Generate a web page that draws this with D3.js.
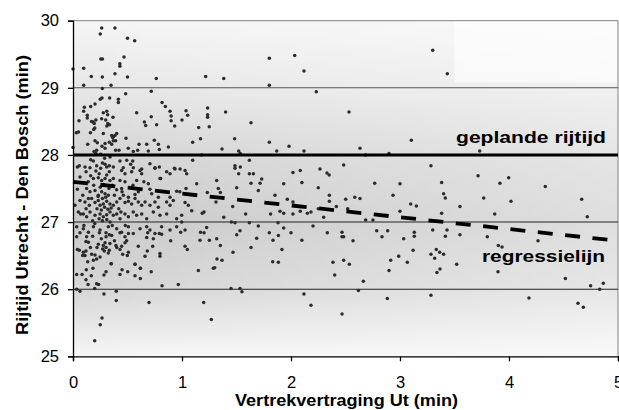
<!DOCTYPE html>
<html><head><meta charset="utf-8">
<script src="https://cdn.jsdelivr.net/npm/d3@7"></script>
<style>body{margin:0;background:#fff}svg{display:block}text{font-family:"Liberation Sans",Arial,sans-serif}</style>
</head><body><svg id="c" width="619" height="410"></svg>
<script>
// ---- data ----
const xTicks = [0, 1, 2, 3, 4, 5];
const yTicks = [25, 26, 27, 28, 29, 30];
const gridValues = [26, 27, 29];
const plannedTime = 28;
const regressionX = [0, 5];
const regressionY = [27.6, 26.72];
const plannedLabel = "geplande rijtijd";
const regressionLabel = "regressielijn";
const xTitle = "Vertrekvertraging Ut (min)";
const yTitle = "Rijtijd Utrecht - Den Bosch (min)";
// [departure delay Utrecht (min), ride time (min)]
const observations = [
[0,29.28],[0.098,29.29],[0.263,29.89],[0.25,29.80],[0.385,29.89],[0.50,29.74],[0.566,29.70],[0.255,29.43],[0.27,29.43],[0.468,29.46],[0.43,29.36],[0.43,29.32],[0.385,29.21],[0.168,29.17],[0.269,29.16],[0.50,29.16],[0.764,29.14],[0.098,29.04],[0.349,29.04],[0.269,28.99],[0.718,28.95],[0.483,28.91],[0.266,28.85],[0.25,28.83],[0.336,28.85],[0.416,28.83],[0.416,28.78],[0.202,28.76],[0.162,28.72],[0.104,28.71],[0.098,28.65],[0.278,28.63],[0.31,28.65],[0.318,28.60],[0.367,28.56],[0.584,28.63],[0.131,28.59],[0.131,28.55],[0.055,28.51],[0.17,28.5],[0.185,28.49],[0.195,28.47],[0.21,28.52],[0.263,28.54],[0.30,28.52],[0.32,28.47],[0.31,28.43],[0.335,28.45],[0.2,28.40],[0.19,28.38],[0.16,28.33],[0.03,28.33],[0.05,28.34],[0.655,28.49],[0.667,28.44],[0.718,28.57],[0.767,28.45],[0.817,28.78],[0.847,28.72],[0.89,28.65],[0.90,28.58],[0.90,28.51],[0.933,28.43],[1.0,28.52],[1.037,28.66],[1.052,28.59],[1.153,28.41],[1.217,29.17],[1.235,28.70],[1.235,28.60],[1.235,28.56],[1.25,28.42],
[1.383,29.14],[1.801,29.44],[2.034,29.48],[2.119,29.25],[1.801,29.04],[2.232,28.94],[2.532,28.64],[1.40,28.64],[1.633,28.48],[1.483,28.24],[1.17,28.24],
[3.3,29.56],[3.434,29.21],
[3.104,28.22],[3.731,28.06],[3.284,27.84],[3.382,27.59],[3.40,27.42],[3.416,27.36],[3.716,27.69],[3.917,27.58],[3.997,27.66],[4.333,27.53],[3.768,27.36],[4.018,27.31],[4.667,27.34],[4.718,27.08],[3.55,27.23],[3.382,27.13],[3.869,27.12],[3.098,27.27],[3.15,27.24],[3.131,26.85],[3.131,26.79],[3.3,26.88],[3.431,26.88],[3.416,26.79],[3.55,26.81],[3.801,26.78],[4.266,26.72],[3.12,26.58],[3.333,26.59],[3.364,26.55],[3.40,26.52],[3.284,26.52],[3.318,26.46],[3.902,26.65],[3.936,26.63],[3.52,26.37],[3.367,26.30],
[3.339,26.25],[3.899,26.26],[3.284,25.91],[4.183,25.87],[4.517,26.16],[4.633,25.79],[4.682,25.73],[4.749,26.05],[4.832,26.0],[4.865,26.09],
[1.367,28.09],[1.801,28.19],[1.982,28.13],[1.869,28.06],[2.119,28.06],[1.52,28.06],[1.535,28.02],[1.18,28.0],[2.633,28.10],[2.685,28.0],[2.899,28.02],[1.618,27.92],[1.486,27.84],[1.486,27.80],[1.535,27.82],[1.52,27.72],[1.618,27.72],[1.655,27.72],[2.018,27.74],[2.085,27.77],[2.266,27.79],[2.33,27.73],[2.35,27.70],[2.483,27.85],[1.731,27.64],[1.716,27.58],[1.633,27.58],[1.318,27.62],[1.502,27.51],[1.333,27.50],[1.352,27.44],[1.232,27.44],[1.70,27.47],[1.933,27.57],[2.10,27.59],[2.25,27.51],[2.768,27.58],[3.0,27.57],[1.853,27.40],[2.352,27.40],[2.352,27.31],[2.502,27.34],[2.585,27.37],[2.633,27.35],[2.936,27.40],[1.966,27.34],[2.018,27.30],[1.312,27.30],[1.465,27.23],[2.416,27.23],[2.25,27.20],[2.52,27.20],[1.186,27.13],[1.202,27.15],[1.899,27.16],[1.933,27.13],[1.813,27.12],[1.584,27.12],[2.018,27.12],[2.085,27.16],[2.15,27.13],[2.183,27.15],[3.0,27.16],[2.30,27.07],[1.383,27.07],[1.453,27.0],[1.486,26.99],[1.618,26.99],[2.685,27.03],[2.752,27.03],[1.881,26.99],[1.70,26.94],[2.202,26.94],[1.933,26.91],[1.532,26.87],[1.502,26.81],[1.801,26.84],[2.0,26.84],[2.333,26.84],[2.468,26.85],[2.468,26.78],[2.483,26.78],[2.786,26.87],[2.887,26.87],[2.835,26.78],[3.034,26.75],[1.17,26.85],[1.202,26.84],[1.251,26.73],[1.318,26.75],[1.685,26.76],[1.835,26.73],[1.884,26.80],[2.10,26.73],[2.569,26.72],[1.352,26.65],[1.633,26.62],[1.917,26.59],[1.468,26.55],[2.988,26.49],[2.915,26.43],[1.321,26.45],[1.367,26.43],[1.832,26.41],[1.884,26.40],[2.385,26.40],[2.483,26.43],[2.535,26.37],[1.287,26.31],[1.30,26.32],
[3.067,26.40],[2.899,26.28],[2.401,26.21],[2.664,26.12],[1.45,26.01],[1.532,26.01],[1.55,25.96],[2.618,25.98],[2.119,25.93],[1.199,25.80],[2.183,25.76],[2.884,25.86],[2.468,25.63],[1.269,25.55],
[0.034,26.22],[0.083,26.22],[0.122,26.29],[0.183,26.31],[0.135,26.41],[0.187,26.43],[0.119,26.14],[0.138,26.07],[0.168,26.20],[0.034,26.0],[0.064,25.97],[0.199,26.01],[0.217,26.08],[0.235,26.07],[0.284,25.93],[0.284,26.21],[0.303,26.26],[0.352,26.38],[0.431,26.22],[0.45,26.29],[0.502,26.26],[0.569,26.37],[0.618,26.31],[0.569,26.20],[0.618,26.16],[0.718,26.26],[0.397,25.97],[0.397,25.83],[0.697,25.80],[0.817,26.05],[0.966,26.07],[1.15,26.28],[0.266,25.57],[0.25,25.47],[0.199,25.23],
[0.034,26.78],[0.064,26.84],[0.125,26.78],[0.119,26.71],[0.141,26.70],[0.18,26.79],[0.242,26.84],[0.303,26.84],[0.303,26.78],[0.333,26.81],[0.355,26.80],[0.431,26.84],[0.446,26.85],[0.477,26.78],[0.508,26.83],[0.685,26.84],[0.676,26.77],[0.737,26.75],[0.792,26.83],[0.813,26.82],[0.896,26.72],[0.988,26.85],[1.028,26.64],[1.049,26.59],[0.04,26.59],[0.058,26.58],[0.095,26.55],[0.089,26.50],[0.11,26.50],[0.119,26.57],[0.171,26.52],[0.202,26.51],[0.217,26.45],[0.248,26.48],[0.232,26.67],[0.272,26.60],[0.278,26.65],[0.287,26.57],[0.303,26.62],[0.333,26.58],[0.339,26.68],[0.294,26.69],[0.324,26.54],[0.394,26.65],[0.401,26.62],[0.431,26.59],[0.446,26.64],[0.456,26.52],[0.477,26.69],[0.492,26.72],[0.508,26.55],[0.498,26.50],[0.599,26.64],[0.661,26.49],[0.682,26.57],[0.731,26.64],[0.798,26.53],[0.798,26.49],[0.349,26.38],[0.569,26.37],[0.618,26.31],
[0,28.11],[0.135,28.16],[0.202,28.21],[0.223,28.18],[0.266,28.13],[0.294,28.17],[0.294,28.10],[0.333,28.19],[0.355,28.16],[0.37,28.27],[0.385,28.29],[0.391,28.21],[0.37,28.21],[0.422,28.07],[0.391,28.07],[0.486,28.25],[0.507,28.10],[0.606,28.16],[0.593,28.07],[0.676,28.16],[0.691,28.06],[0.746,28.22],[0.783,28.16],[0.792,28.08],[0.217,28.07],[0.21,28.02],[0.193,28.05],[0.254,28.01],[0.553,28.05],
[0.11,27.82],[0.058,27.84],[0.162,27.93],[0.186,27.91],[0.217,27.84],[0.254,27.80],[0.294,27.86],[0.309,27.82],[0.333,27.84],[0.37,27.82],[0.431,27.91],[0.461,27.81],[0.493,27.92],[0.529,27.86],[0.548,27.91],[0.63,27.79],[0.706,27.87],[0.752,27.80],[0.792,27.82],[0.93,27.80],[0.982,27.79],
[0.278,28.32],[0.355,28.29],[0.364,28.26],[0.401,28.32],[0.875,28.12],
[0.04,27.82],[0.156,27.81],[0.333,27.75],[0.446,27.77],[0.477,27.72],[0.538,27.75],[0.553,27.81],[0.615,27.77],[0.63,27.72],[0.752,27.81],[0.804,27.65],[0.859,27.75],[0.89,27.72],[0.936,27.79],[1.028,27.77],[1.043,27.72],
[0.064,27.67],[0.162,27.69],[0.187,27.65],[0.232,27.66],[0.263,27.62],[0.294,27.65],[0.309,27.70],[0.339,27.62],[0.37,27.65],[0.431,27.62],[0.477,27.60],[0.584,27.62],[0.691,27.57],[0.798,27.65],
[0.04,27.49],[0.125,27.50],[0.156,27.45],[0.202,27.47],[0.232,27.40],[0.263,27.45],[0.294,27.42],[0.324,27.40],[0.446,27.50],[0.462,27.40],[0.508,27.37],[0.569,27.41],[0.706,27.49],[0.722,27.42],[0.783,27.37],[0.89,27.37],[0.951,27.46],[1.037,27.50],
[0.018,27.25],[0.064,27.32],[0.11,27.30],[0.141,27.35],[0.171,27.35],[0.202,27.29],[0.232,27.32],[0.248,27.25],[0.278,27.27],[0.309,27.31],[0.339,27.27],[0.37,27.25],[0.401,27.30],[0.431,27.35],[0.477,27.29],[0.508,27.31],[0.538,27.27],[0.569,27.35],[0.599,27.30],[0.63,27.25],[0.661,27.30],[0.706,27.25],[0.752,27.30],[0.783,27.22],[0.859,27.30],[0.89,27.25],[0.92,27.32],[1.028,27.29],[1.058,27.25],
[0.049,27.15],[0.095,27.12],[0.125,27.08],[0.156,27.15],[0.202,27.10],[0.248,27.12],[0.278,27.08],[0.309,27.11],[0.339,27.15],[0.37,27.10],[0.401,27.12],[0.431,27.05],[0.477,27.12],[0.508,27.08],[0.553,27.15],[0.584,27.10],[0.63,27.12],[0.676,27.05],[0.737,27.15],[0.798,27.10],[0.859,27.12],[0.951,27.05],[0.997,27.10],
[0.034,26.93],[0.095,26.90],[0.141,26.85],[0.187,26.93],[0.248,26.88],[0.324,26.93],[0.401,26.90],[0.508,26.93],[0.553,26.83],[0.615,26.90],[0.676,26.93],[0.706,26.88],[0.752,26.83],[0.813,26.93],[0.89,26.88],[0.951,26.93],[0.997,27.0],[1.028,26.88],
[1.098,28.19],[1.098,27.92],[0.98,27.45],[1.135,27.57],[1.089,27.17],[1.165,26.73],[1.226,26.92],
[0.22,27.20],[0.26,27.18],[0.29,27.22],[0.32,27.19],[0.35,27.21],[0.24,27.05],[0.27,27.02],[0.31,27.04],[0.34,27.00],[0.20,26.98],[0.23,27.38],[0.27,27.35],[0.30,27.37],[0.19,27.55],[0.25,27.52],[0.28,27.56],[0.33,27.50],[0.36,27.55],[0.40,27.48],[0.15,27.25],[0.18,27.02],[0.12,27.20],[0.09,27.40],[0.07,27.12],[0.42,27.20],[0.45,27.45],[0.29,27.95],[0.34,27.97],[0.24,27.72],[0.21,27.76],[0.14,27.60],[0.10,26.95],[0.16,26.62],[0.26,26.75],[0.36,26.95],[0.38,26.72],[0.22,26.62],[0.55,27.55],[0.60,27.45],[0.65,27.60],[0.12,27.75],[0.44,27.15],[0.48,26.95],[0.27,27.88],[0.38,27.40]
];

// ---- layout ----
const svg = d3.select("#c");
const FONT = '"Liberation Sans",Arial,sans-serif';
const x = d3.scaleLinear().domain([0, 5]).range([73, 618]);
const y = d3.scaleLinear().domain([25, 30]).range([356.3, 20.7]);
const W = x(5) - x(0), H = y(25) - y(30);

const defs = svg.append("defs");
const g1 = defs.append("linearGradient").attr("id", "bgv").attr("x1", 0).attr("y1", 0).attr("x2", 0).attr("y2", 1);
[[0, "#f5f5f5"], [0.2, "#e7e7e7"], [0.4, "#d4d4d4"], [0.6, "#c9c9c9"], [0.8, "#d6d6d6"], [1, "#f6f6f6"]]
  .forEach(([o, c]) => g1.append("stop").attr("offset", o).attr("stop-color", c));
const g2 = defs.append("linearGradient").attr("id", "bgh").attr("x1", 0).attr("y1", 0).attr("x2", 1).attr("y2", 0);
[[0, "#ffffff", 0], [1, "#ffffff", 0.4]]
  .forEach(([o, c, a]) => g2.append("stop").attr("offset", o).attr("stop-color", c).attr("stop-opacity", a));

svg.append("rect").attr("x", x(0)).attr("y", y(30)).attr("width", W).attr("height", H).attr("fill", "url(#bgv)");
svg.append("rect").attr("x", x(0)).attr("y", y(30)).attr("width", W).attr("height", H).attr("fill", "url(#bgh)");
svg.append("rect").attr("x", x(3.5)).attr("y", y(30)).attr("width", x(5) - x(3.5)).attr("height", y(29.08) - y(30))
  .attr("fill", "#ffffff").attr("fill-opacity", 0.6);

// frame top/right
svg.append("path").attr("d", `M${x(0)},${y(30)}H${x(5)}V${y(25)}`).attr("fill", "none").attr("stroke", "#808080").attr("stroke-width", 1);

// gridlines
svg.append("g").selectAll("line").data(gridValues).join("line")
  .attr("x1", x(0)).attr("x2", x(5)).attr("y1", d => y(d)).attr("y2", d => y(d))
  .attr("stroke", d => d === 29 ? "#555" : "#222").attr("stroke-width", 1.1);

// points
svg.append("g").selectAll("circle").data(observations).join("circle")
  .attr("cx", d => x(d[0])).attr("cy", d => y(d[1])).attr("r", 1.75).attr("fill", "#2b2b2b");

// planned line
svg.append("line").attr("x1", x(0)).attr("x2", x(5)).attr("y1", y(plannedTime)).attr("y2", y(plannedTime))
  .attr("stroke", "#000").attr("stroke-width", 3);

// regression
svg.append("line").attr("x1", x(regressionX[0])).attr("y1", y(regressionY[0]))
  .attr("x2", x(regressionX[1])).attr("y2", y(regressionY[1]))
  .attr("stroke", "#000").attr("stroke-width", 3.8).attr("stroke-dasharray", "15,12.5");

// axes
const ax = svg.append("g").attr("transform", `translate(0,${y(25)})`)
  .call(d3.axisBottom(x).tickValues(xTicks).tickSize(5).tickPadding(15).tickFormat(d3.format("d")));
const ay = svg.append("g").attr("transform", `translate(${x(0)},0)`)
  .call(d3.axisLeft(y).tickValues(yTicks).tickSize(5).tickPadding(9).tickFormat(d3.format("d")));
[ax, ay].forEach(a => {
  a.select(".domain").attr("stroke", "#000").attr("stroke-width", 1.3);
  a.selectAll(".tick line").attr("stroke", "#000").attr("stroke-width", 1.3);
  a.selectAll("text").attr("font-size", 16.5).attr("fill", "#000").style("font-family", FONT);
});

// labels
function label(t, px, py, anchor, len) {
  return svg.append("text").attr("x", px).attr("y", py).attr("text-anchor", anchor)
    .attr("font-size", 17).attr("font-weight", "bold").attr("fill", "#000")
    .attr("textLength", len).attr("lengthAdjust", "spacingAndGlyphs").text(t);
}
label(plannedLabel, 456, 142.7, "start", 150);
label(regressionLabel, 482, 261.5, "start", 123);
label(xTitle, 235, 406, "start", 223);
svg.append("text").attr("transform", "translate(28,335) rotate(-90)").attr("text-anchor", "start")
  .attr("font-size", 17).attr("font-weight", "bold").attr("fill", "#000")
  .attr("textLength", 280).attr("lengthAdjust", "spacingAndGlyphs").text(yTitle);
</script></body></html>
